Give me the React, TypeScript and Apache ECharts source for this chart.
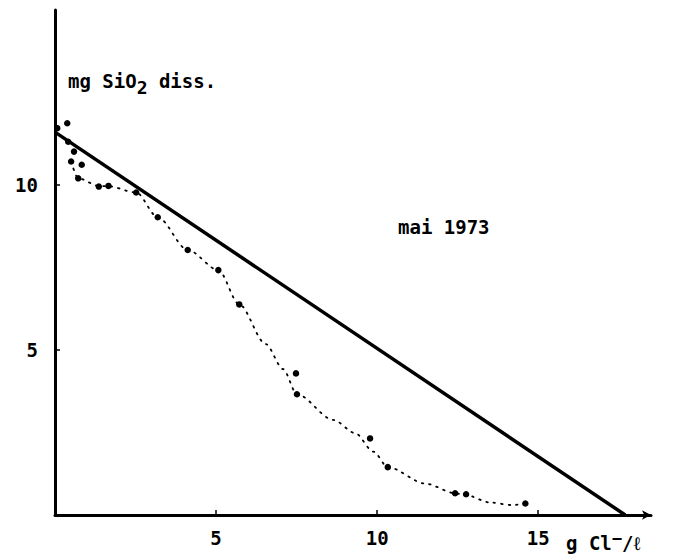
import React, { useEffect, useRef } from "react";
import * as echarts from "echarts";

// Tick values
const xTickValues = [5, 10, 15];
const yTickValues = [5, 10];

// Measured points (g Cl-/l, mg SiO2 dissolved)
const measuredX = [0.07, 0.38, 0.41, 0.59, 0.5, 0.83, 0.72, 1.36, 1.66, 2.52, 3.19, 4.12, 5.07, 5.72, 7.48, 7.51, 9.78, 10.33, 12.42, 12.76, 14.6];
const measuredY = [11.72, 11.87, 11.31, 11.01, 10.71, 10.61, 10.2, 9.95, 9.97, 9.77, 9.02, 8.03, 7.42, 6.38, 4.29, 3.66, 2.32, 1.45, 0.66, 0.63, 0.35];

// Hand-drawn dotted fit curve
const fitX = [0.5, 0.72, 1.36, 1.66, 2.52, 3.19, 4.12, 5.07, 5.72, 6.54, 7.08, 7.51, 8.64, 9.32, 9.88, 10.33, 11.5, 12.42, 12.76, 13.5, 14.2, 14.6];
const fitY = [10.71, 10.2, 9.97, 9.96, 9.77, 9.02, 8.03, 7.42, 6.38, 5.18, 4.42, 3.66, 2.88, 2.48, 1.92, 1.45, 0.95, 0.66, 0.6, 0.38, 0.3, 0.35];

// Theoretical dilution line
const lineX = [0, 17.7];
const lineY = [11.6, 0];

const xAxisMax = 18.5;
const yAxisMax = 15.3;

const titleY = "mg SiO";
const titleSub = "2";
const titleEnd = " diss.";
const annotation = "mai 1973";

const FONT = '"DejaVu Sans Mono", monospace';
const W = "bold";

export default function App() {
  const ref = useRef<HTMLDivElement>(null);
  useEffect(() => {
    if (!ref.current) return;
    const chart = echarts.init(ref.current, undefined, { renderer: "svg" });
    const zip = (xs: number[], ys: number[]) => xs.map((x, i) => [x, ys[i]]);
    chart.setOption({
      animation: false,
      backgroundColor: "#ffffff",
      grid: { left: 55, top: 10, width: 596, height: 505, containLabel: false },
      xAxis: {
        type: "value",
        min: 0,
        max: xAxisMax,
        interval: 5,
        splitLine: { show: false },
        axisLine: {
          show: true,
          lineStyle: { color: "#000", width: 3 },
          symbol: ["none", "arrow"],
          symbolSize: [7, 9],
        },
        axisTick: {
          show: true,
          inside: true,
          length: 5,
          customValues: xTickValues,
          lineStyle: { color: "#000", width: 1.5 },
        },
        axisLabel: {
          customValues: xTickValues,
          color: "#000",
          fontFamily: FONT,
          fontWeight: W,
          fontSize: 19,
          margin: 13,
        },
      },
      yAxis: {
        type: "value",
        min: 0,
        max: yAxisMax,
        interval: 5,
        splitLine: { show: false },
        axisLine: { show: true, lineStyle: { color: "#000", width: 3 } },
        axisTick: {
          show: true,
          inside: true,
          length: 5,
          customValues: yTickValues,
          lineStyle: { color: "#000", width: 1.5 },
        },
        axisLabel: {
          customValues: yTickValues,
          color: "#000",
          fontFamily: FONT,
          fontWeight: W,
          fontSize: 19,
          margin: 17,
        },
      },
      series: [
        {
          type: "line",
          data: zip(lineX, lineY),
          showSymbol: false,
          symbol: "none",
          lineStyle: { color: "#000", width: 3.5 },
          silent: true,
          z: 3,
        },
        {
          type: "line",
          data: zip(fitX, fitY),
          smooth: 0.3,
          smoothMonotone: "x",
          showSymbol: false,
          symbol: "none",
          lineStyle: { color: "#000", width: 1.8, type: [1.5, 6], cap: "round" },
          silent: true,
          z: 2,
        },
        {
          type: "scatter",
          data: zip(measuredX, measuredY),
          symbol: "circle",
          symbolSize: 6.5,
          itemStyle: { color: "#000", opacity: 1 },
          z: 4,
        },
      ],
      graphic: [
        {
          type: "text",
          left: 68,
          top: 71,
          style: {
            text: `{a|${titleY}}{s|${titleSub}}{a|${titleEnd}}`,
            rich: {
              a: { fontFamily: FONT, fontWeight: W, fontSize: 19, fill: "#000", verticalAlign: "top", lineHeight: 21 },
              s: { fontFamily: FONT, fontWeight: W, fontSize: 18, fill: "#000", verticalAlign: "top", lineHeight: 21, padding: [7, 0, 0, 0] },
            },
          },
        },
        {
          type: "text",
          left: 398,
          top: 217,
          style: { text: annotation, fontFamily: FONT, fontWeight: W, fontSize: 19, fill: "#000" },
        },
        {
          type: "text",
          left: 566,
          top: 529,
          style: {
            text: "{a|g Cl}{u|−}{a|/ℓ}",
            rich: {
              a: { fontFamily: FONT, fontWeight: W, fontSize: 19, fill: "#000", verticalAlign: "top", lineHeight: 23, padding: [4, 0, 0, 0] },
              u: { fontFamily: FONT, fontWeight: W, fontSize: 17, fill: "#000", verticalAlign: "top", lineHeight: 23, padding: [0, 0, 0, 0] },
            },
          },
        },
      ],
    });
    return () => chart.dispose();
  }, []);
  return <div ref={ref} style={{ position: "fixed", left: 0, top: 0, width: 677, height: 560 }} />;
}
